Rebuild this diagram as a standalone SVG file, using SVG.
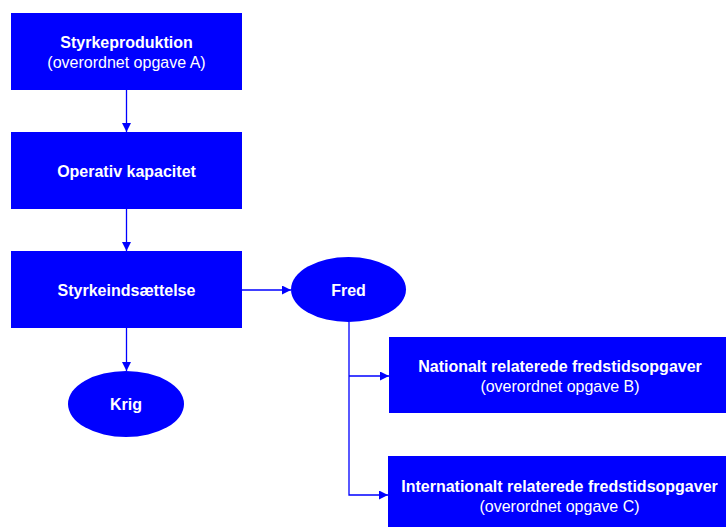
<svg xmlns="http://www.w3.org/2000/svg" width="726" height="527" viewBox="0 0 726 527">
<style>
.n{fill:#0000FF}
.t{font-family:"Liberation Sans",Arial,sans-serif;font-size:16px;fill:#FFFFFF;text-anchor:middle}
.b{font-weight:bold}
.c{stroke:#0000FF;stroke-width:1.3;fill:none}
</style>
<defs>
<marker id="ah" markerUnits="userSpaceOnUse" markerWidth="10" markerHeight="10" refX="9" refY="4.5" orient="auto">
<path d="M0,0 L9,4.5 L0,9 z" fill="#0000FF"/>
</marker>
</defs>
<rect width="726" height="527" fill="#FFFFFF"/>
<g id="connectors">
<line class="c" x1="126.5" y1="90" x2="126.5" y2="132" marker-end="url(#ah)"/>
<line class="c" x1="126.5" y1="209" x2="126.5" y2="251" marker-end="url(#ah)"/>
<line class="c" x1="126.5" y1="328" x2="126.5" y2="371" marker-end="url(#ah)"/>
<line class="c" x1="242" y1="290" x2="291" y2="290" marker-end="url(#ah)"/>
<polyline class="c" points="349,322 349,495 388,495" marker-end="url(#ah)"/>
<line class="c" x1="349" y1="376" x2="389" y2="376" marker-end="url(#ah)"/>
</g>
<g id="styrkeproduktion">
<rect class="n" x="11" y="13" width="231" height="77"/>
<text class="t b" x="126.5" y="48">Styrkeproduktion</text>
<text class="t" x="126.5" y="68">(overordnet opgave A)</text>
</g>
<g id="operativ">
<rect class="n" x="11" y="132" width="231" height="77"/>
<text class="t b" x="126.5" y="176.5">Operativ kapacitet</text>
</g>
<g id="styrkeindsaettelse">
<rect class="n" x="11" y="251" width="231" height="77"/>
<text class="t b" x="126.5" y="295.5">Styrkeindsættelse</text>
</g>
<g id="fred">
<ellipse class="n" cx="348.5" cy="289.5" rx="57.5" ry="32.5"/>
<text class="t b" x="348.5" y="295.5">Fred</text>
</g>
<g id="krig">
<ellipse class="n" cx="126" cy="404" rx="58" ry="33"/>
<text class="t b" x="126" y="410">Krig</text>
</g>
<g id="nationalt">
<rect class="n" x="389" y="337" width="342" height="76"/>
<text class="t b" x="560" y="372">Nationalt relaterede fredstidsopgaver</text>
<text class="t" x="560" y="392">(overordnet opgave B)</text>
</g>
<g id="internationalt">
<rect class="n" x="388" y="456" width="343" height="77"/>
<text class="t b" x="559.5" y="492">Internationalt relaterede fredstidsopgaver</text>
<text class="t" x="559.5" y="512">(overordnet opgave C)</text>
</g>
</svg>
